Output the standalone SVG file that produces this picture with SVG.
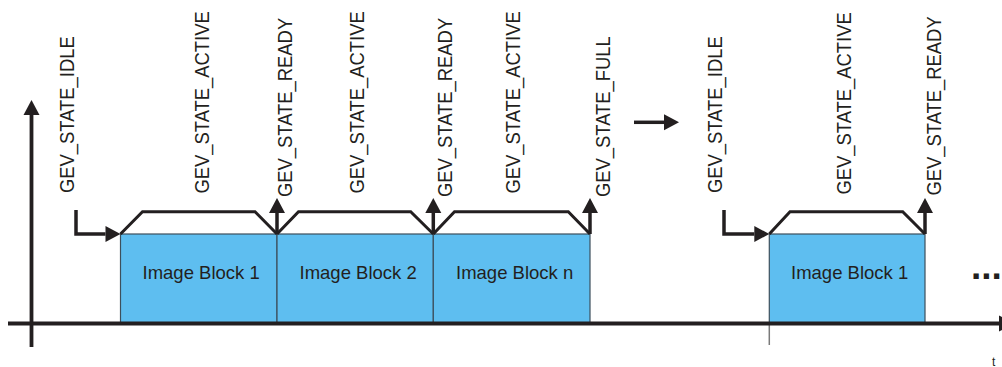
<svg xmlns="http://www.w3.org/2000/svg" width="1002" height="367" viewBox="0 0 1002 367">
  <style>
    .bg { fill: #ffffff; }
    .block { fill: #5ebef0; stroke: #3d4f5c; stroke-width: 1.2; }
    .blabel { font-family: "Liberation Sans", Arial, sans-serif; font-size: 18.5px; fill: #231f20; }
    .state { font-family: "Liberation Sans", Arial, sans-serif; font-size: 18.4px; fill: #231f20; }
    .axis { fill: none; stroke: #231f20; stroke-width: 3.8; }
    .wave { fill: none; stroke: #231f20; stroke-width: 3; stroke-linejoin: miter; }
    .arrow { fill: none; stroke: #231f20; stroke-width: 3.5; stroke-linejoin: miter; }
    .tick { font-family: "Liberation Sans", Arial, sans-serif; font-size: 12px; fill: #231f20; }
    .more { font-family: "Liberation Sans", Arial, sans-serif; font-size: 37px; font-weight: bold; fill: #231f20; }
  </style>
  <defs>
    <marker id="head" markerUnits="userSpaceOnUse" markerWidth="15" markerHeight="16" refX="0" refY="8" orient="auto" overflow="visible">
      <path d="M0,0 L15,8 L0,16 Z" fill="#231f20"/>
    </marker>
  </defs>

  <rect class="bg" x="0" y="0" width="1002" height="367"/>

  <!-- image blocks -->
  <g id="block-1">
    <rect class="block" x="120.5" y="234" width="156.5" height="89.5"/>
    <text class="blabel" x="142.5" y="279">Image Block 1</text>
  </g>
  <g id="block-2">
    <rect class="block" x="277" y="234" width="156.3" height="89.5"/>
    <text class="blabel" x="299.5" y="279">Image Block 2</text>
  </g>
  <g id="block-n">
    <rect class="block" x="433.3" y="234" width="156.7" height="89.5"/>
    <text class="blabel" x="456" y="279">Image Block n</text>
  </g>
  <g id="block-1-next">
    <rect class="block" x="769.3" y="234" width="155.7" height="89.5"/>
    <line x1="769.3" y1="323" x2="769.3" y2="345" stroke="#7a7a7a" stroke-width="1.5"/>
    <text class="blabel" x="791" y="279">Image Block 1</text>
  </g>

  <!-- state labels (vertical, slightly tall glyphs) -->
  <g id="state-idle-1">
    <text class="state" transform="translate(73.5,193) rotate(-90) scale(1,1.1)">GEV_STATE_IDLE</text>
  </g>
  <g id="state-active-1">
    <text class="state" transform="translate(208.5,193.5) rotate(-90) scale(1,1.1)">GEV_STATE_ACTIVE</text>
  </g>
  <g id="state-ready-1">
    <text class="state" transform="translate(292,197) rotate(-90) scale(1,1.1)">GEV_STATE_READY</text>
  </g>
  <g id="state-active-2">
    <text class="state" transform="translate(363.5,193.5) rotate(-90) scale(1,1.1)">GEV_STATE_ACTIVE</text>
  </g>
  <g id="state-ready-2">
    <text class="state" transform="translate(451.5,197) rotate(-90) scale(1,1.1)">GEV_STATE_READY</text>
  </g>
  <g id="state-active-3">
    <text class="state" transform="translate(520,193.5) rotate(-90) scale(1,1.1)">GEV_STATE_ACTIVE</text>
  </g>
  <g id="state-full">
    <text class="state" transform="translate(610,197) rotate(-90) scale(1,1.1)">GEV_STATE_FULL</text>
  </g>
  <g id="state-idle-2">
    <text class="state" transform="translate(721.7,193) rotate(-90) scale(1,1.1)">GEV_STATE_IDLE</text>
  </g>
  <g id="state-active-4">
    <text class="state" transform="translate(850.7,194.5) rotate(-90) scale(1,1.1)">GEV_STATE_ACTIVE</text>
  </g>
  <g id="state-ready-3">
    <text class="state" transform="translate(940.7,195.5) rotate(-90) scale(1,1.1)">GEV_STATE_READY</text>
  </g>

  <!-- axes, waveforms and transition arrows -->
  <g id="connectors">
    <path class="axis" d="M31.5,347 V115" marker-end="url(#head)"/>
    <path class="axis" d="M8,323.5 H999" marker-end="url(#head)"/>

    <path class="wave" d="M120.5,234 L142.5,211.7 H255 L277,234"/>
    <path class="wave" d="M277,234 L298.5,211.7 H410.7 L433.3,234"/>
    <path class="wave" d="M433.3,234 L454.5,211.7 H568.3 L590,234"/>
    <path class="wave" d="M769.3,234 L790,211.7 H902.7 L925,234"/>

    <path class="arrow" d="M76,210 V234 H105.5" marker-end="url(#head)"/>
    <path class="arrow" d="M724,210 V234 H754.3" marker-end="url(#head)"/>

    <path class="arrow" d="M277,234 V213" marker-end="url(#head)"/>
    <path class="arrow" d="M433.3,234 V213" marker-end="url(#head)"/>
    <path class="arrow" d="M590,234 V213" marker-end="url(#head)"/>
    <path class="arrow" d="M925,234 V213" marker-end="url(#head)"/>

    <path class="arrow" d="M634,122.3 H664" stroke-width="4" marker-end="url(#head)"/>
  </g>

  <text class="more" x="971" y="278.5">...</text>
  <text class="tick" x="992" y="366">t</text>
</svg>
